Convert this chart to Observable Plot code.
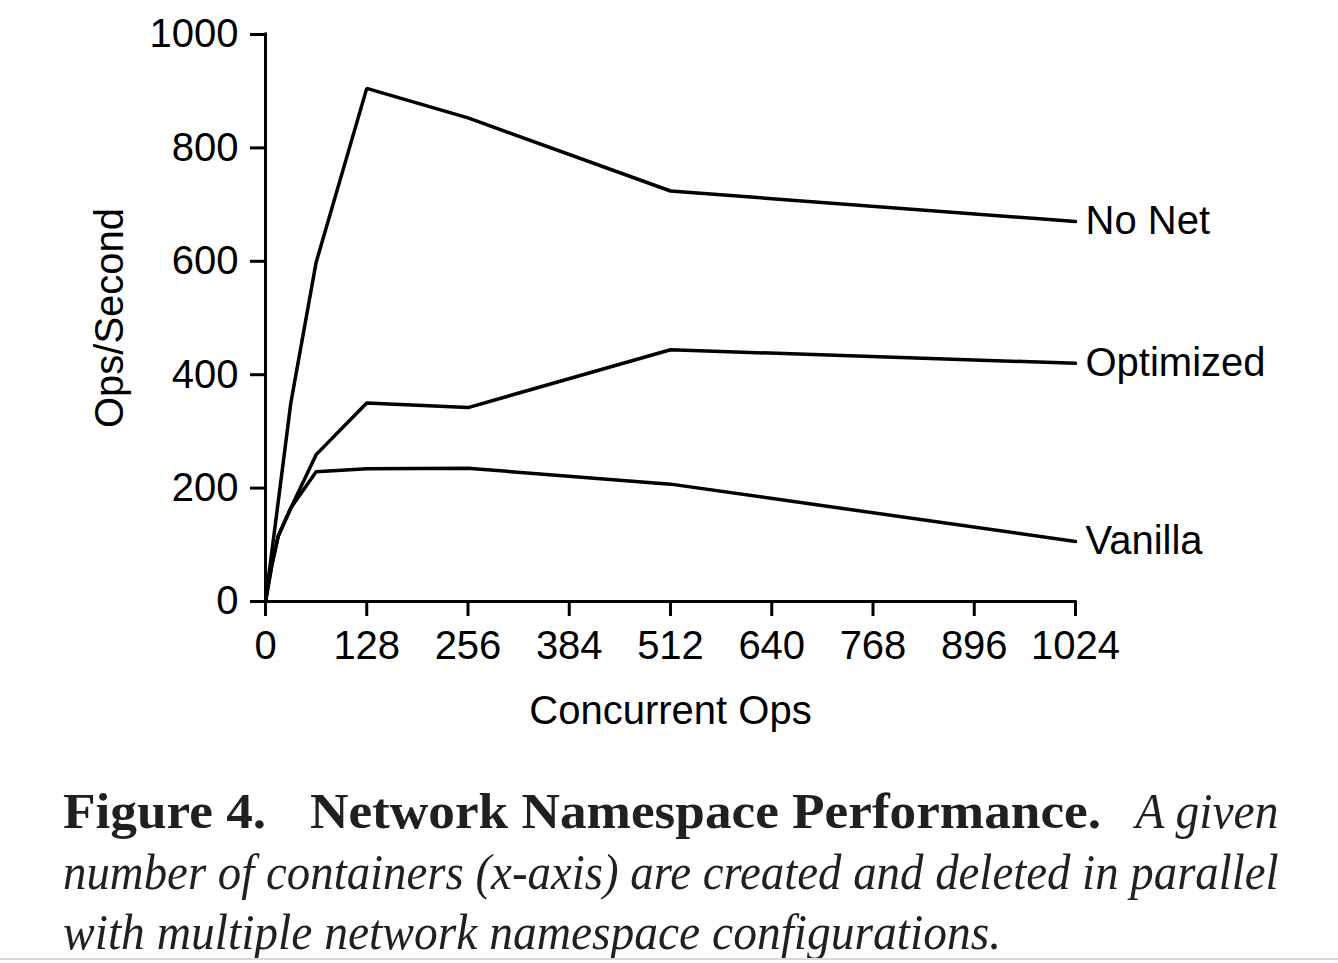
<!DOCTYPE html>
<html>
<head>
<meta charset="utf-8">
<script src="https://cdn.jsdelivr.net/npm/d3@7"></script>
<script src="https://cdn.jsdelivr.net/npm/@observablehq/plot@0.6"></script>
<style>
  html, body { margin: 0; padding: 0; background: #fff; overflow: hidden; }
  #chart svg { display: block; }
  .cap {
    position: absolute; white-space: nowrap;
    font-family: "Liberation Serif", "Times New Roman", serif;
    font-size: 50px; line-height: 61px; color: #231f20;
  }
  .cap.bold { font-weight: bold; transform: scaleX(1.065); transform-origin: 0 0; }
  .cap.ital { font-style: italic; transform: scaleX(0.95); transform-origin: 0 0; }
  .cap.ital.right { transform-origin: 100% 0; }
  .cap.ital.just { width: 1297px; text-align: justify; text-align-last: justify; transform: scaleX(0.937); }
  #rule { position: absolute; left: 0; top: 958px; width: 1338px; height: 2px; background: #d8d8d8; }
</style>
</head>
<body>
<div id="chart"></div>
<div class="cap bold" style="left:63px; top:781px;">Figure 4.</div>
<div class="cap bold" style="left:310px; top:781px;">Network Namespace Performance.</div>
<div class="cap ital right" style="right:60px; top:781px;">A given</div>
<div class="cap ital just" style="left:63px; top:842px;">number of containers (x-axis) are created and deleted in parallel</div>
<div class="cap ital" style="left:63px; top:902px;">with multiple network namespace configurations.</div>
<div id="rule"></div>
<script>
const concurrentOps = [0, 8, 16, 32, 64, 128, 256, 512, 1024];
const noNet     = [0, 88, 175, 350, 598, 905, 853, 724, 670];
const optimized = [0, 64, 115, 165, 259, 350, 342, 444, 420];
const vanilla   = [0, 64, 115, 165, 229, 234, 235, 207, 106];
const seriesNames = ["No Net", "Optimized", "Vanilla"];
const seriesValues = [noNet, optimized, vanilla];
const xTicks = [0, 128, 256, 384, 512, 640, 768, 896, 1024];
const yTicks = [0, 200, 400, 600, 800, 1000];

const data = seriesNames.flatMap((name, i) =>
  concurrentOps.map((x, j) => ({series: name, x, y: seriesValues[i][j]})));
const ends = seriesNames.map((name, i) => ({
  series: name,
  x: concurrentOps[concurrentOps.length - 1],
  y: seriesValues[i][seriesValues[i].length - 1]
}));

const chart = Plot.plot({
  width: 1338,
  height: 740,
  marginLeft: 265,
  marginRight: 263,
  marginTop: 34,
  marginBottom: 139,
  style: {fontFamily: "'Liberation Sans', Arial, sans-serif", fontSize: "40px", color: "#000", background: "#fff"},
  x: {domain: [0, 1024]},
  y: {domain: [0, 1000]},
  marks: [
    Plot.axisX({ticks: xTicks, tickFormat: d => String(d), tickSize: 15, tickPadding: 14, strokeWidth: 3, fontSize: 40,
      label: "Concurrent Ops", labelAnchor: "center", labelArrow: "none", labelOffset: 122}),
    Plot.axisY({ticks: yTicks, tickFormat: d => String(d), tickSize: 15, tickPadding: 12, strokeWidth: 3, fontSize: 40,
      label: "Ops/Second", labelAnchor: "center", labelArrow: "none", labelOffset: 171}),
    Plot.ruleX([0], {stroke: "#000", strokeWidth: 3, strokeLinecap: "square"}),
    Plot.ruleY([0], {stroke: "#000", strokeWidth: 3, strokeLinecap: "square"}),
    Plot.line(data, {x: "x", y: "y", z: "series", stroke: "#000", strokeWidth: 3.5, strokeLinejoin: "miter"}),
    Plot.text(ends, {x: "x", y: "y", text: "series", textAnchor: "start", dx: 10, fontSize: 40, fill: "#000"})
  ]
});
document.getElementById("chart").appendChild(chart);
</script>
</body>
</html>
